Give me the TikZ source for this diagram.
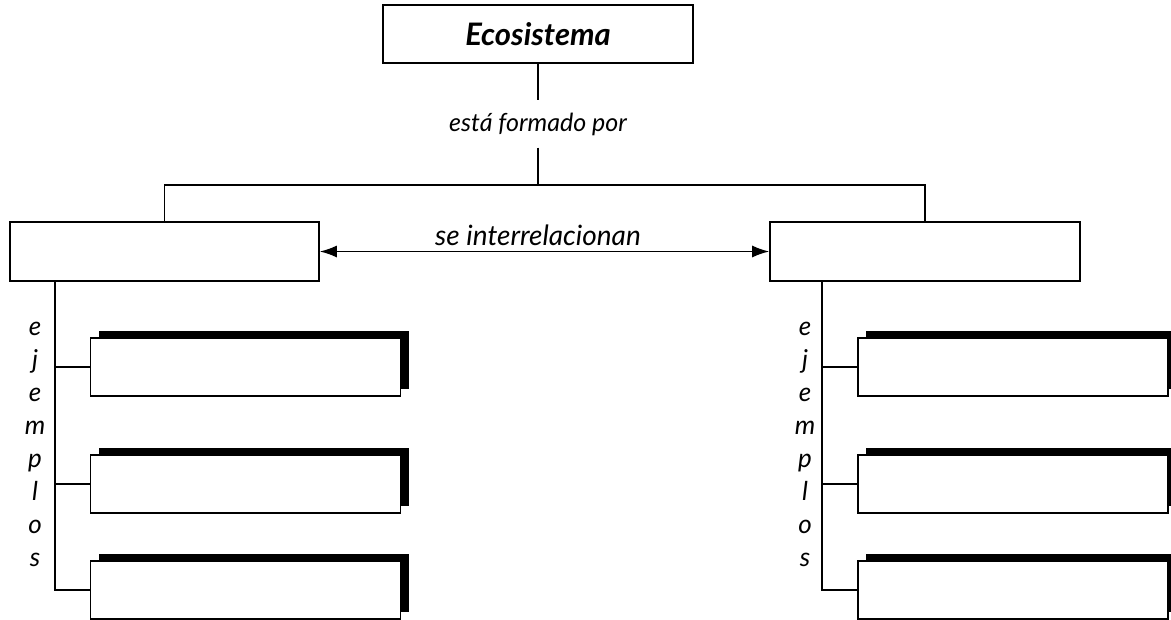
\documentclass[tikz,border=0pt]{standalone}
\usepackage{fontspec}
\setmainfont{Lato}
\usetikzlibrary{arrows.meta,shadows}
\begin{document}
\begin{tikzpicture}[x=1pt,y=-1pt,
  box/.style={draw=black,line width=1.6pt,fill=white,inner sep=0pt},
  child/.style={box,minimum width=310pt,minimum height=58pt,
    drop shadow={shadow xshift=8pt,shadow yshift=7pt,fill=black,opacity=1}},
  conn/.style={line width=1.6pt},
  lbl/.style={font=\fontsize{25}{30}\selectfont\itshape,inner sep=0pt},
  letter/.style={font=\fontsize{26}{30}\selectfont\itshape,inner sep=0pt,anchor=base},
  >={Latex[length=17pt,width=12pt]}]
\useasboundingbox (0,0) rectangle (1171,619);
\node[box,minimum width=310pt,minimum height=58pt,font=\fontsize{31}{36}\selectfont\bfseries\itshape] (top) at (538,34) {Ecosistema};
\node[lbl,minimum height=47pt] (fp) at (538,124) {está formado por};
\coordinate (bus) at (538,185);
\draw[line width=2.2pt] (top.south) -- (fp.north);
\draw[line width=2.2pt] (fp.south) -- (bus);
\node[box,minimum width=309pt,minimum height=59pt] (L) at (164.5,251.5) {};
\node[box,minimum width=310pt,minimum height=59pt] (R) at (925,251.5) {};
\draw[conn] (L.north) |- (bus) -| (R.north);
\draw[conn,<->] (L.east) -- (R.west);
\node[lbl,font=\fontsize{28}{32}\selectfont\itshape,anchor=base] (si) at (538,245) {se interrelacionan};
% children
\node[child] (l1) at (245.5,367) {};
\node[child] (l2) at (245.5,484) {};
\node[child] (l3) at (245.5,590) {};
\node[child] (r1) at (1013,367) {};
\node[child] (r2) at (1013,484) {};
\node[child] (r3) at (1013,590) {};
\coordinate (lx) at (55,0);
\coordinate (rx) at (822,0);
\draw[conn] (L.south -| lx) |- (l3.west);
\draw[conn] (l1.west) -- (l1.west -| lx);
\draw[conn] (l2.west) -- (l2.west -| lx);
\draw[conn] (R.south -| rx) |- (r3.west);
\draw[conn] (r1.west) -- (r1.west -| rx);
\draw[conn] (r2.west) -- (r2.west -| rx);
\foreach \c [count=\i from 0] in {e,j,e,m,p,l,o,s}{
  \node[letter] (le\i) at (35,335+33*\i) {\c};
  \node[letter] (re\i) at (805,335+33*\i) {\c};
}
\end{tikzpicture}
\end{document}
